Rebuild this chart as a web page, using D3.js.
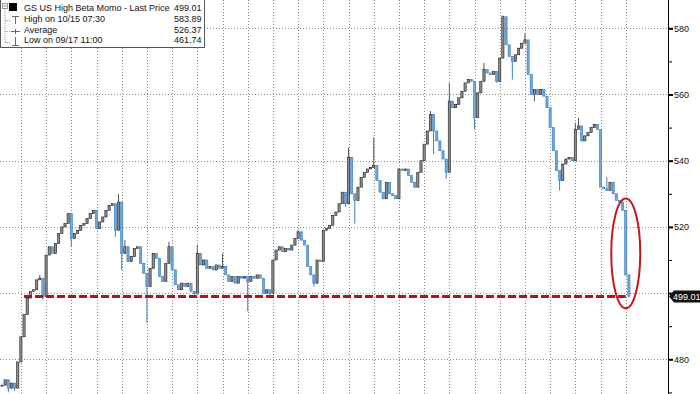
<!DOCTYPE html>
<html><head><meta charset="utf-8">
<script src="https://cdn.jsdelivr.net/npm/d3@7"></script>
<style>html,body{margin:0;padding:0;background:#fff;} svg{display:block;}</style>
</head><body><svg id="c" width="700" height="394"></svg>
<script>
// ---- data ----
const firstOpen = 472;
const closes = [
472.2,473.8,471.3,472.8,471.3,479.2,486.8,493.5,498.5,500.5,
501,504,504.5,499,511.5,514,512,515,518,520,
521,524,516.5,518,519,520.5,521,522.5,524,525,
519.5,521.5,523,525,526.5,527,519,527.5,512,514,
509.5,511,513.5,514,509,506,502,507.5,512,510.5,
505,503.5,509,514,507,502.5,501,503,502,503,
500.5,500,512,508.5,510,507.5,508,507,508.5,507.5,
508,505.5,503.5,505,503,505,504.5,505,503.5,505,
504.5,505.5,504.5,500,501,500,510,513,514,512.5,
513.5,513,514.5,516.5,518.5,516,514.5,508,505.5,503,
510,509.5,519,519.5,520.5,523.5,524.5,527,530.5,527,
541,530,528,532,535,536.5,537.5,538,538.5,534,
530.5,528.5,533.5,530,529.5,528.5,537.5,537,537.5,535.5,
533.5,532,536.5,540,545,549,554,549,546,543,
540.5,536.5,558,556,557,559,561,563.5,564.5,564,
553,560.5,564,567.5,566.5,566,567,564,571,583.5,
575,571.5,570,572,574,575.5,576.5,566,560,561.5,
560,561.5,559.5,556,550,543,537,534,539,540.5,
541,540,549.5,550.5,546,547.5,548.5,550,551,549.5,
532,531.5,531,533.5,530,528,527.5,525,505.5,499.01
];
const highs = [[12,505.5],[37,530],[39,516],[53,515.5],[62,514.5],[70,512],[94,519],[110,544],[118,547],[136,555],[142,563.5],[153,569.5],[159,583.89],[166,578.5],[182,551.5],[183,553],[192,535]];
const lows = [[2,470],[4,470.5],[13,498],[22,514],[36,517],[38,507],[46,491],[61,498.8],[78,494.5],[85,499],[99,502],[109,526],[112,521],[137,542],[141,534.5],[150,549.5],[157,563.5],[162,564.5],[169,558],[177,531]];
const yMajorTicks = [480, 500, 520, 540, 560, 580];
const yMinorTicks = [470, 490, 510, 530, 550, 570];
const hiddenTickLabels = [500];
const dayStartBars = [6,14,22,30,38,46,54,62,70,78,86,94,102,110,118,126,134,142,150,158,166,174,182,190,198];
const lastPrice = 499.01;
const supportLevel = 499.01, supportFrom = 7, supportTo = 198;
const highlight = {bar: 198, price: 512, barRadius: 4.6, priceRadius: 16.6};
const legendTitle = "GS US High Beta Momo - Last Price";
const legendRows = [["High on 10/15 07:30", "583.89"], ["Average", "526.37"], ["Low on 09/17 11:00", "461.74"]];

// ---- chart ----
const W = 700, H = 394, axisX = 668;
const svg = d3.select("#c");
const x = d3.scaleLinear().domain([0, closes.length - 1]).range([2, 628.9]);
const y = d3.scaleLinear().domain([480, 580]).range([359.3, 28.3]);
const font = "'Liberation Sans', Arial, sans-serif";

const hiMap = new Map(highs), loMap = new Map(lows);
const bars = closes.map((c, i) => {
  const o = i === 0 ? firstOpen : closes[i - 1];
  const hi = Math.max(o, c, hiMap.has(i) ? hiMap.get(i) : -Infinity);
  const lo = Math.min(o, c, loMap.has(i) ? loMap.get(i) : Infinity);
  return {i, o, c, hi, lo, up: c >= o};
});

const defs = svg.append("defs");
defs.append("clipPath").attr("id", "plot").append("rect").attr("x", 0).attr("y", 0).attr("width", axisX).attr("height", H);

// gridlines
const grid = svg.append("g");
grid.selectAll("line.h").data(yMajorTicks).join("line")
  .attr("x1", 0).attr("x2", axisX).attr("y1", d => Math.round(y(d)) + 0.5).attr("y2", d => Math.round(y(d)) + 0.5)
  .attr("stroke", "#8c8c8c").attr("stroke-width", 1).attr("stroke-dasharray", "1,2");
grid.selectAll("line.v").data(dayStartBars).join("line")
  .attr("x1", d => Math.round(x(d)) + 0.5).attr("x2", d => Math.round(x(d)) + 0.5).attr("y1", 0).attr("y2", H)
  .attr("stroke", "#8c8c8c").attr("stroke-width", 1).attr("stroke-dasharray", "1,2");

// candles
const plot = svg.append("g").attr("clip-path", "url(#plot)");
const upStroke = "#1a1a1a", upFill = "#8f8f8f", dnStroke = "#3c7dc0", dnFill = "#6fa8dc";
plot.selectAll("line.w").data(bars).join("line")
  .attr("x1", d => x(d.i)).attr("x2", d => x(d.i))
  .attr("y1", d => y(d.hi)).attr("y2", d => y(d.lo))
  .attr("stroke", d => d.up ? "#555" : dnStroke).attr("stroke-width", 1);
plot.selectAll("rect.b").data(bars).join("rect")
  .attr("x", d => x(d.i) - 1.1).attr("width", 2.2)
  .attr("y", d => y(Math.max(d.o, d.c)))
  .attr("height", d => Math.max(1, Math.abs(y(d.o) - y(d.c))))
  .attr("fill", d => d.up ? upFill : dnFill)
  .attr("stroke", d => d.up ? upStroke : dnStroke).attr("stroke-width", 0.6);

// support dashed line
svg.append("line")
  .attr("x1", x(supportFrom)).attr("x2", x(supportTo))
  .attr("y1", y(supportLevel)).attr("y2", y(supportLevel))
  .attr("stroke", "#a3191c").attr("stroke-width", 3).attr("stroke-dasharray", "8,3");

// highlight ellipse
svg.append("ellipse")
  .attr("cx", x(highlight.bar)).attr("cy", y(highlight.price))
  .attr("rx", x(highlight.bar + highlight.barRadius) - x(highlight.bar))
  .attr("ry", y(highlight.price - highlight.priceRadius) - y(highlight.price))
  .attr("fill", "none").attr("stroke", "#c8161d").attr("stroke-width", 2);

// right axis
const ax = svg.append("g").attr("transform", `translate(${axisX},0)`);
ax.append("line").attr("x1", 0.5).attr("x2", 0.5).attr("y1", 0).attr("y2", H).attr("stroke", "#000");
const major = ax.append("g").call(d3.axisRight(y).tickValues(yMajorTicks).tickSize(5).tickPadding(1)
  .tickFormat(d => hiddenTickLabels.includes(d) ? "" : d3.format("d")(d)));
major.select(".domain").remove();
major.selectAll(".tick line").attr("stroke", "#000").attr("stroke-width", 2);
major.selectAll(".tick text").attr("font-family", font).attr("font-size", 9).attr("fill", "#111");
const minor = ax.append("g").call(d3.axisRight(y).tickValues(yMinorTicks).tickSize(4).tickFormat(""));
minor.select(".domain").remove();
minor.selectAll(".tick line").attr("stroke", "#000");

// last price tag
const ty = y(lastPrice);
svg.append("path")
  .attr("d", `M${axisX + 1},${ty} L${axisX + 6},${ty - 6} L${W},${ty - 6} L${W},${ty + 6} L${axisX + 6},${ty + 6} Z`)
  .attr("fill", "#111");
svg.append("text").attr("x", axisX + 5).attr("y", ty + 3.3).text(d3.format(".2f")(lastPrice))
  .attr("font-family", font).attr("font-size", 9).attr("fill", "#fff");

// legend
const lg = svg.append("g");
lg.append("rect").attr("x", 0.5).attr("y", -1).attr("width", 204).attr("height", 48.5)
  .attr("fill", "#fff").attr("stroke", "#555");
lg.append("rect").attr("x", 2.5).attr("y", 3.5).attr("width", 5).attr("height", 5).attr("fill", "#fff").attr("stroke", "#999");
lg.append("line").attr("x1", 3.5).attr("x2", 6.5).attr("y1", 6).attr("y2", 6).attr("stroke", "#777");
lg.append("rect").attr("x", 9).attr("y", 3).attr("width", 8).attr("height", 8).attr("fill", "#000");
lg.append("line").attr("x1", 5).attr("x2", 5).attr("y1", 9).attr("y2", 42).attr("stroke", "#999").attr("stroke-dasharray", "1,1");
[20, 31, 42].forEach(r => lg.append("line").attr("x1", 5).attr("x2", 10).attr("y1", r + 0.5).attr("y2", r + 0.5).attr("stroke", "#999").attr("stroke-dasharray", "1,1"));
// icons
lg.append("path").attr("d", "M12,16.5 H19 M15.5,16.5 V24").attr("stroke", "#666").attr("fill", "none");
lg.append("path").attr("d", "M11,31.5 H20 M15.5,29 V34").attr("stroke", "#666").attr("fill", "none");
lg.append("path").attr("d", "M15.5,37 V45.5 M12,45.5 H19").attr("stroke", "#666").attr("fill", "none");
const rowsY = [10.5, 21.5, 32.5, 43];
const texts = [[legendTitle, d3.format(".2f")(lastPrice)], ...legendRows];
texts.forEach((t, k) => {
  lg.append("text").attr("x", 24).attr("y", rowsY[k]).text(t[0])
    .attr("font-family", font).attr("font-size", 9).attr("fill", "#111");
  lg.append("text").attr("x", 174).attr("y", rowsY[k]).text(t[1])
    .attr("font-family", font).attr("font-size", 9).attr("fill", "#111");
});
</script></body></html>
